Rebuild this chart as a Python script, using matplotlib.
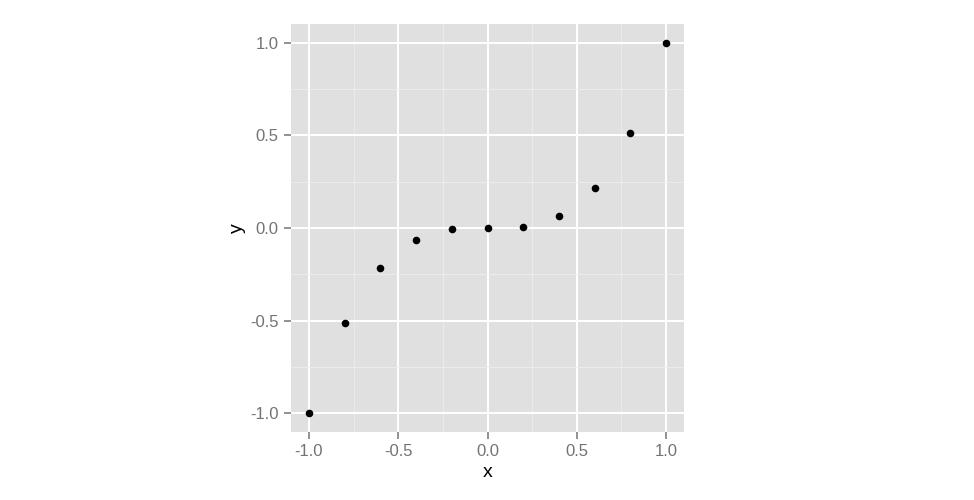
import matplotlib
matplotlib.use("Agg")
import matplotlib.pyplot as plt
from matplotlib.ticker import FixedLocator

x = [-1.0, -0.8, -0.6, -0.4, -0.2, 0.0, 0.2, 0.4, 0.6, 0.8, 1.0]
y = [-1.0, -0.512, -0.216, -0.064, -0.008, 0.0, 0.008, 0.064, 0.216, 0.512, 1.0]
major_ticks = [-1.0, -0.5, 0.0, 0.5, 1.0]
minor_ticks = [-0.75, -0.25, 0.25, 0.75]
tick_labels = ["-1.0", "-0.5", "0.0", "0.5", "1.0"]

plt.rcParams['font.family'] = ['Liberation Sans', 'DejaVu Sans']
fig = plt.figure(figsize=(9.74, 5.0), dpi=100)
ax = fig.add_axes([291/974, 1-432/500, 393/974, 408/500])
ax.set_facecolor('#E0E0E0')
ax.set_xlim(-1.1, 1.1)
ax.set_ylim(-1.1, 1.1)
ax.xaxis.set_major_locator(FixedLocator(major_ticks))
ax.yaxis.set_major_locator(FixedLocator(major_ticks))
ax.xaxis.set_minor_locator(FixedLocator(minor_ticks))
ax.yaxis.set_minor_locator(FixedLocator(minor_ticks))
ax.set_xticklabels(tick_labels)
ax.set_yticklabels(tick_labels)
ax.grid(which='major', color='white', linewidth=1.4)
ax.grid(which='minor', color='#EEEEEE', linewidth=0.6)
ax.set_axisbelow(True)
for s in ax.spines.values():
    s.set_visible(False)
ax.tick_params(which='major', length=5, width=1.2, color='#7F7F7F', labelcolor='#737373', labelsize=12, pad=4)
ax.tick_params(which='minor', length=0)
ax.scatter(x, y, s=30, color='black', zorder=3, linewidths=0)
ax.set_xlabel('x', fontsize=14, labelpad=3)
ax.set_ylabel('y', fontsize=14, labelpad=3)
fig.savefig('out.png', dpi=100)
